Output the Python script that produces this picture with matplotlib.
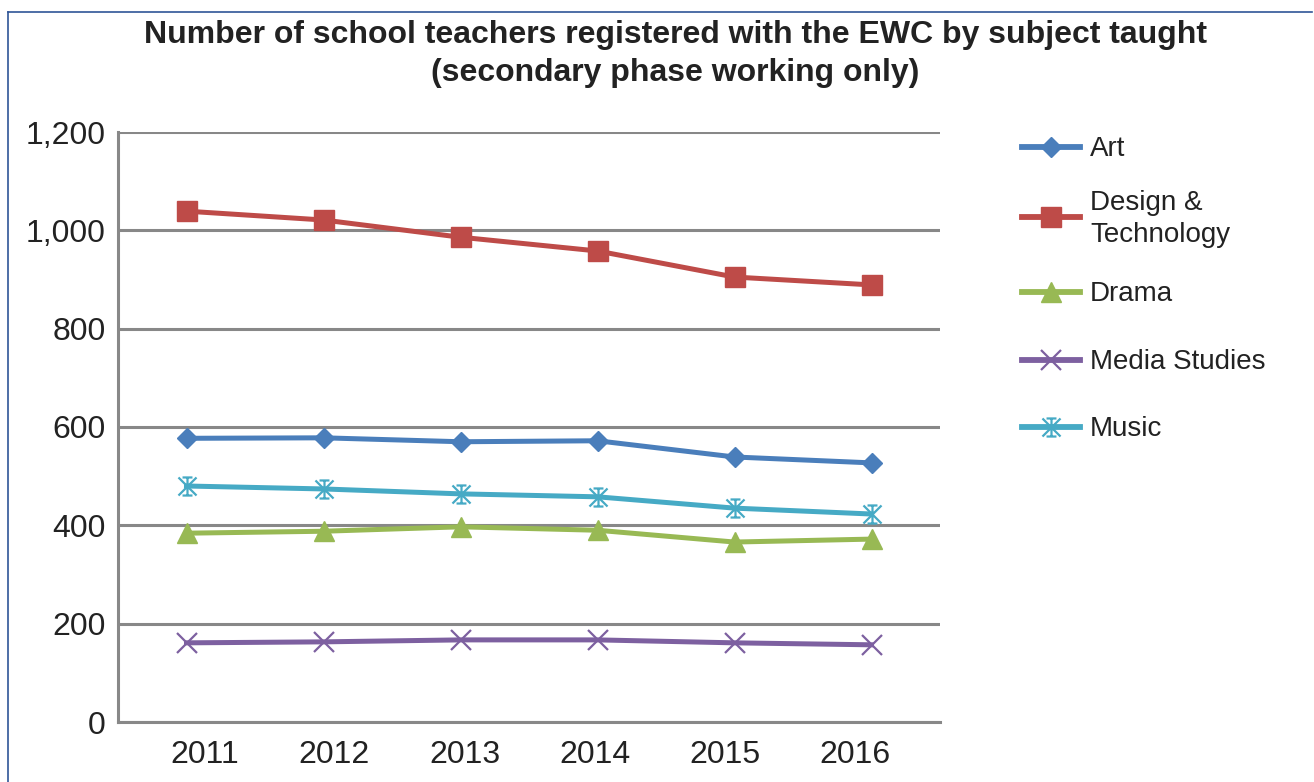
import numpy as np
import matplotlib
matplotlib.use("Agg")
import matplotlib.pyplot as plt
from matplotlib.path import Path
from matplotlib.lines import Line2D

plt.rcParams['font.family'] = ['Liberation Sans', 'DejaVu Sans']

years = ["2011", "2012", "2013", "2014", "2015", "2016"]
art = [577, 578, 570, 572, 539, 527]
design_tech = [1039, 1021, 986, 958, 905, 889]
drama = [384, 388, 397, 390, 366, 372]
media_studies = [161, 163, 167, 167, 161, 157]
music = [480, 474, 464, 458, 435, 423]

y_ticks = [0, 200, 400, 600, 800, 1000, 1200]

# asterisk with capped top and bottom, as used for the Music series
star_verts = [(-1, -1), (1, 1), (-1, 1), (1, -1), (0, -1), (0, 1),
              (-0.55, 1), (0.55, 1), (-0.55, -1), (0.55, -1)]
star_codes = [Path.MOVETO, Path.LINETO] * 5
star_marker = Path(star_verts, star_codes)

series = [
    ("Art", art, "#4a7ebb", dict(marker="D", markersize=10)),
    ("Design &\nTechnology", design_tech, "#be4b48", dict(marker="s", markersize=14)),
    ("Drama", drama, "#98b954", dict(marker="^", markersize=14)),
    ("Media Studies", media_studies, "#7d60a0",
     dict(marker="x", markersize=14, markeredgewidth=1.6)),
    ("Music", music, "#46aac5",
     dict(marker=star_marker, markersize=13, markeredgewidth=1.6)),
]

W, H = 1314, 782
fig = plt.figure(figsize=(W / 100, H / 100), dpi=100)
ax = fig.add_axes([118 / W, 60 / H, (940 - 118) / W, (722 - 132) / H])

x = np.arange(len(years))
for name, vals, col, mk in series:
    ax.plot(x, vals, color=col, linewidth=3.6, markerfacecolor=col,
            markeredgecolor=col, label=name, **mk)

ax.set_xlim(-0.5, len(years) - 0.5)
ax.set_ylim(0, 1200)
ax.set_yticks(y_ticks)
ax.set_yticklabels([f"{v:,}" for v in y_ticks])
# category labels sit slightly inward of the plotted points
ax.set_xticks(np.arange(len(years)) * 0.95 + 0.13)
ax.set_xticklabels(years)
ax.tick_params(axis="both", length=0, labelsize=23, colors="#222222")
ax.tick_params(axis="y", pad=9)
ax.tick_params(axis="x", pad=13)
ax.yaxis.grid(True, color="#888888", linewidth=2.2)
ax.set_axisbelow(True)
for side in ("top", "right"):
    ax.spines[side].set_visible(False)
for side in ("left", "bottom"):
    ax.spines[side].set_color("#888888")
    ax.spines[side].set_linewidth(2.2)

fig.text(675 / W, 1 - 35 / H,
         "Number of school teachers registered with the EWC by subject taught",
         ha="center", va="center", fontsize=23, fontweight="bold", color="#222222")
fig.text(675 / W, 1 - 73 / H, "(secondary phase working only)",
         ha="center", va="center", fontsize=23, fontweight="bold", color="#222222")

# legend: sample line with marker, then the series name
legend_rows = [147, 217, 292, 360, 427]
for (name, vals, col, mk), row in zip(series, legend_rows):
    yy = 1 - row / H
    fig.add_artist(Line2D([1022 / W, 1080 / W], [yy, yy], transform=fig.transFigure,
                          color=col, linewidth=4.2))
    fig.add_artist(Line2D([1051 / W], [yy], transform=fig.transFigure, color=col,
                          linestyle="none", markerfacecolor=col, markeredgecolor=col,
                          **mk))
    fig.text(1090 / W, yy - 2 / H, name, ha="left", va="center", fontsize=20,
             color="#222222", linespacing=1.32)

# thin frame along the top and left edges
fig.add_artist(Line2D([8 / W, 8 / W], [0, 1 - 12 / H],
                      transform=fig.transFigure, color="#2f5597", linewidth=1.2))
fig.add_artist(Line2D([8 / W, 1312 / W], [1 - 12 / H, 1 - 12 / H],
                      transform=fig.transFigure, color="#2f5597", linewidth=1.2))

fig.savefig("out.png", dpi=100, facecolor="white")
